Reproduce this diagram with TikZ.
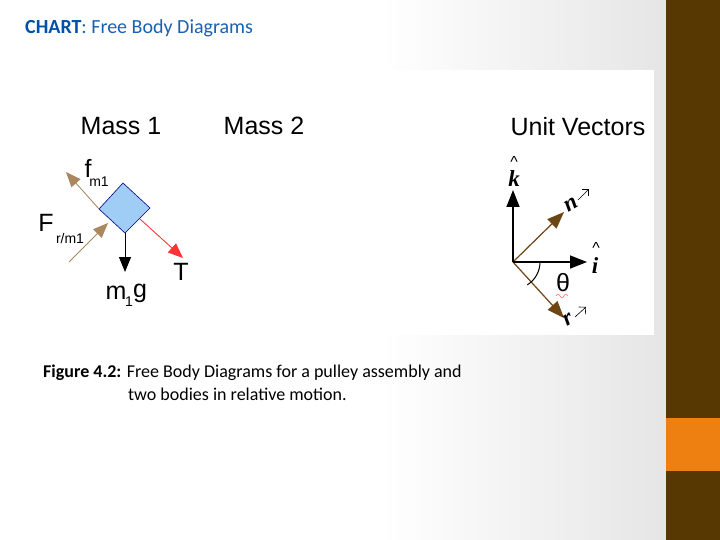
\documentclass[tikz,border=0pt]{standalone}
\usepackage{fontspec}
\setmainfont{Liberation Sans}
\newfontfamily\carlitofont{Carlito}
\newfontfamily\serifit{Liberation Serif}
\usetikzlibrary{arrows.meta,shapes.geometric}
\definecolor{brownbar}{RGB}{87,56,3}
\definecolor{orangebar}{RGB}{237,128,17}
\definecolor{tan}{RGB}{170,135,95}
\definecolor{vbrown}{RGB}{110,70,20}
\definecolor{boxblue}{RGB}{160,205,245}
\definecolor{titleblue}{RGB}{0,80,170}
\tikzset{
 lbl/.style={inner sep=0pt,font=\fontsize{25}{25}\selectfont},
 sub/.style={inner sep=0pt,font=\fontsize{14}{14}\selectfont},
 frc/.style={line width=0.8pt,-{Triangle[length=15pt,width=12pt]}},
 uv/.style={line width=1.5pt,-{Triangle[length=17pt,width=13pt]}},
 hatl/.style={inner sep=0pt,font=\serifit\bfseries\itshape\fontsize{23}{23}\selectfont}
}
\begin{document}
\begin{tikzpicture}[x=1pt,y=-1pt]
\useasboundingbox (0,0) rectangle (720,540);
\fill[white] (0,0) rectangle (666,540);
\shade[left color=white,right color=black!10] (380,0) rectangle (666,540);
\fill[white] (20,70) rectangle (654,335);
\fill[brownbar] (666,0) rectangle (720,540);
\fill[orangebar] (666,418) rectangle (720,471);
\node[anchor=west,inner sep=0pt,font=\carlitofont\fontsize{20}{20}\selectfont] (title) at (25,28) {\textcolor{titleblue}{\textbf{CHART}}\textcolor{titleblue!90}{: Free Body Diagrams}};
% headings
\node[lbl] (m1h) at (121,126) {Mass 1};
\node[lbl] (m2h) at (264,126) {Mass 2};
\node[lbl] (uvh) at (578,127) {Unit Vectors};
% block
\coordinate (bt) at (123,183);
\coordinate (br) at (150,208);
\coordinate (bb) at (125,233);
\coordinate (bl) at (99,209);
\draw[fill=boxblue,draw=blue!50!black,line width=0.6pt] (bt)--(br)--(bb)--(bl)--cycle;
\coordinate (fend) at (66,172);
\coordinate (Fstart) at (69,262);
\coordinate (Fend) at (108,223);
\coordinate (Tstart) at (140,219);
\coordinate (Tend) at (183,258);
\coordinate (gend) at (125,272);
\draw[frc,draw=tan,fill=vbrown!80] (bl) -- (fend);
\draw[frc,draw=tan,fill=vbrown!80] (Fstart) -- (Fend);
\draw[frc,draw=red!80,fill=red] (Tstart) -- (Tend);
\draw[frc,draw=black,fill=black,line width=1pt] (bb) -- (gend);
\node[lbl] (f) at (88,168) {f};
\node[sub] (fs) at (99,182) {m1};
\node[lbl] (F) at (46,223) {F};
\node[sub] (Fs) at (70,238) {r/m1};
\node[lbl] (m) at (116,293) {m};
\node[sub] (ms) at (129,302) {1};
\node[lbl] (g) at (140,293) {g};
\node[lbl] (T) at (181,272) {T};
% unit vectors
\coordinate (o) at (513,262);
\coordinate (k) at (513,190);
\coordinate (i) at (587,262);
\coordinate (n) at (564,212);
\coordinate (r) at (564,318);
\draw[uv,line width=1.2pt,draw=vbrown,fill=vbrown] (o) -- (n);
\draw[uv,line width=1.2pt,draw=vbrown,fill=vbrown] (o) -- (r);
\draw[uv] (o) -- (k);
\draw[uv] (o) -- (i);
\draw[line width=1pt] (540,262) arc[start angle=0,end angle=58,radius=27];
\node[inner sep=0pt,font=\fontsize{25}{25}\selectfont] (th) at (563,283) {θ};
\draw[red!70,line width=0.4pt] (556,296) sin (558,294) cos (560,296) sin (562,298) cos (564,296) sin (566,294) cos (568,296);
\node[hatl] (kl) at (514,179) {k};
\node[inner sep=0pt,font=\fontsize{16}{16}\selectfont] (kh) at (514,162) {\^{}};
\node[hatl] (il) at (595,266) {i};
\node[inner sep=0pt,font=\fontsize{16}{16}\selectfont] (ih) at (596,248) {\^{}};
\node[hatl,rotate=30] (nl) at (571,205) {n};
\draw[line width=0.6pt,-{Straight Barb[length=5pt]}] (578,200) -- (589,189);
\node[hatl,rotate=30] (rl) at (568,320) {r};
\draw[line width=0.6pt,-{Straight Barb[length=5pt]}] (575,317) -- (586,307);
% caption
\node[anchor=west,inner sep=0pt,font=\carlitofont\fontsize{18}{18}\selectfont] (cap1) at (43,373) {\textbf{Figure 4.2:} Free Body Diagrams for a pulley assembly and};
\node[anchor=west,inner sep=0pt,font=\carlitofont\fontsize{18}{18}\selectfont] (cap2) at (128,394) {two bodies in relative motion.};
\end{tikzpicture}
\end{document}
